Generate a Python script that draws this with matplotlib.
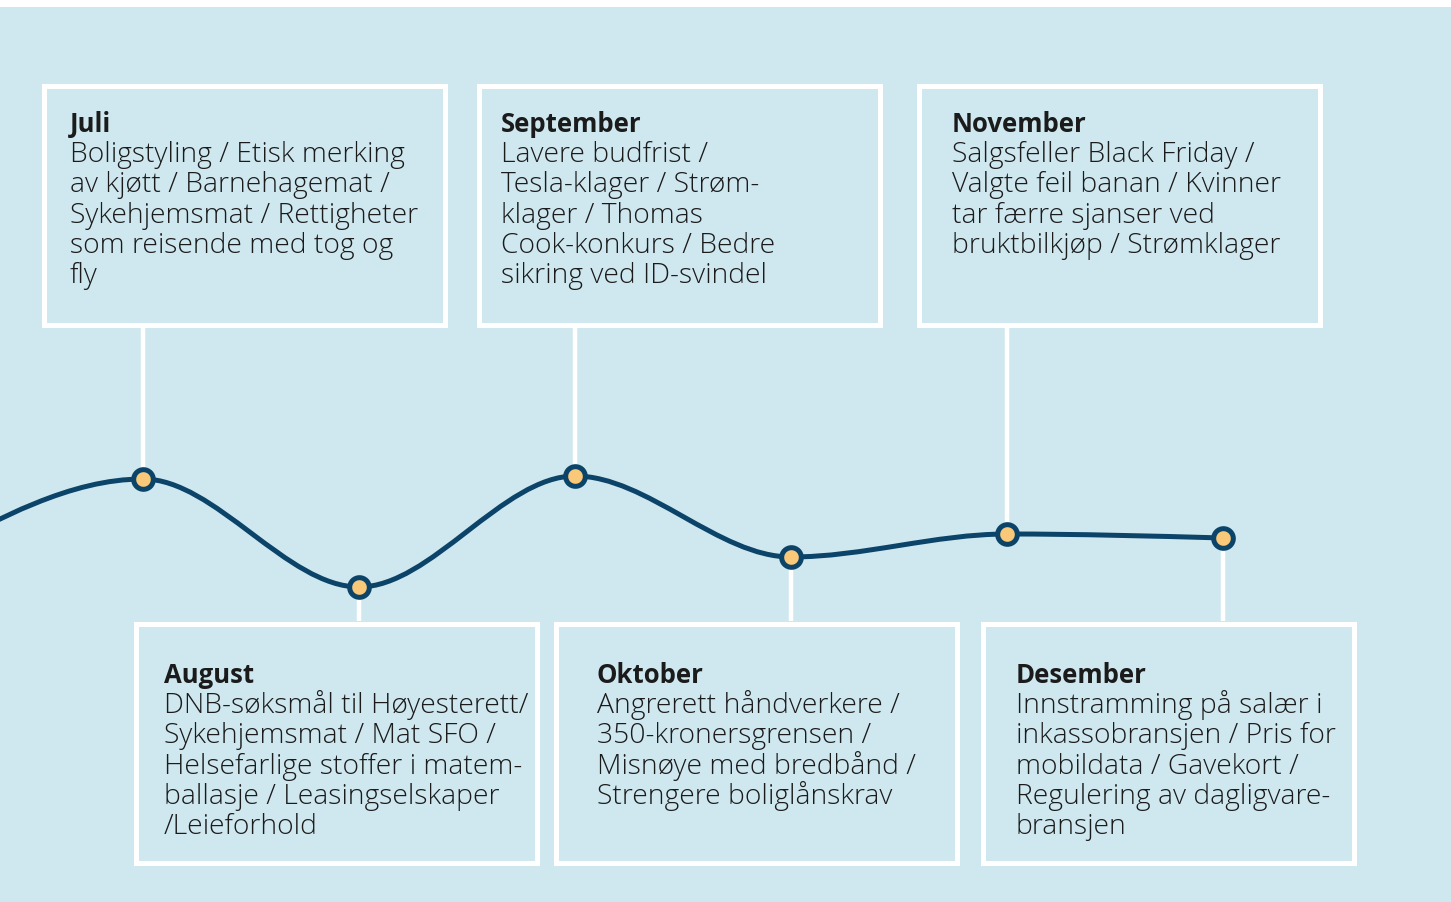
import matplotlib
matplotlib.use("Agg")
import matplotlib.pyplot as plt
from matplotlib.path import Path
from matplotlib.patches import PathPatch, Rectangle
import numpy as np

# ---------------- data ----------------
months = ["Juni", "Juli", "August", "September", "Oktober", "November", "Desember"]
month_index = [-1, 0, 1, 2, 3, 4, 5]
values = [345, 423, 315, 426, 345, 368, 364]   # relative level

titles = ["Juli", "August", "September", "Oktober", "November", "Desember"]
bodies = [
    "Boligstyling / Etisk merking\nav kjøtt / Barnehagemat /\nSykehjemsmat / Rettigheter\nsom reisende med tog og\nfly",
    "DNB-søksmål til Høyesterett/\nSykehjemsmat / Mat SFO /\nHelsefarlige stoffer i matem-\nballasje / Leasingselskaper\n/Leieforhold",
    "Lavere budfrist /\nTesla-klager / Strøm-\nklager / Thomas\nCook-konkurs / Bedre\nsikring ved ID-svindel",
    "Angrerett håndverkere /\n350-kronersgrensen /\nMisnøye med bredbånd /\nStrengere boliglånskrav",
    "Salgsfeller Black Friday /\nValgte feil banan / Kvinner\ntar færre sjanser ved\nbruktbilkjøp / Strømklager",
    "Innstramming på salær i\ninkassobransjen / Pris for\nmobildata / Gavekort /\nRegulering av dagligvare-\nbransjen",
]
above = [True, False, True, False, True, False]

# layout (pixel coordinates of the boxes: left, top, right, bottom – outer edges)
boxes = [
    (41, 84, 447, 328),
    (133, 622, 539, 866),
    (476, 84, 882, 328),
    (553, 622, 959, 866),
    (916, 84, 1322, 328),
    (980, 622, 1356, 866),
]
text_x = [70, 164, 501, 597, 952, 1016]

BG = "#cfe8f0"
LINE = "#0b4468"
DOT = "#f9c878"
TXT = "#1b1b1b"

W, H = 1451, 903
fig = plt.figure(figsize=(W / 100, H / 100), dpi=100)
fig.patch.set_facecolor("white")

# layout axes in pixel units
lay = fig.add_axes([0, 0, 1, 1])
lay.set_xlim(0, W)
lay.set_ylim(H, 0)
lay.axis("off")
lay.add_patch(Rectangle((0, 8), W, H - 8, facecolor=BG, edgecolor="none", zorder=0))

# data axes (month index vs value)
ax = fig.add_axes([0, 0, 1, 1])
ax.patch.set_alpha(0)
spacing = 216.0
x0px = 143.0
ax.set_xlim(-x0px / spacing, (W - x0px) / spacing)
ax.set_ylim(0, H)
ax.axis("off")

# monotone cubic (d3 curveMonotoneX) as bezier path
x = np.array(month_index, float)
y = np.array(values, float)
n = len(x)
h = np.diff(x)
s = np.diff(y) / h
t = np.zeros(n)
for i in range(1, n - 1):
    s0, s1 = s[i - 1], s[i]
    h0, h1 = h[i - 1], h[i]
    p = (s0 * h1 + s1 * h0) / (h0 + h1)
    t[i] = (np.sign(s0) + np.sign(s1)) * min(abs(s0), abs(s1), 0.5 * abs(p))
t[0] = (3 * s[0] - t[1]) / 2
t[-1] = (3 * s[-1] - t[-2]) / 2
verts = [(x[0], y[0])]
codes = [Path.MOVETO]
for i in range(n - 1):
    dx = (x[i + 1] - x[i]) / 3
    verts += [(x[i] + dx, y[i] + dx * t[i]), (x[i + 1] - dx, y[i + 1] - dx * t[i + 1]), (x[i + 1], y[i + 1])]
    codes += [Path.CURVE4] * 3
ax.add_patch(PathPatch(Path(verts, codes), facecolor="none", edgecolor=LINE, lw=3.6, zorder=3,
                       capstyle="round"))

# boxes, connectors and text
for k in range(len(titles)):
    l, tp, r, b = boxes[k]
    lay.add_patch(Rectangle((l + 2.5, tp + 2.5), r - l - 5, b - tp - 5, facecolor="none",
                            edgecolor="white", lw=5 * 0.72, zorder=2))
    xi = month_index[k + 1]
    vi = values[k + 1]
    edge = H - (b if above[k] else tp)
    ax.plot([xi, xi], [vi, edge], color="white", lw=3.2, zorder=2, solid_capstyle="butt")
    base = 132 if above[k] else 683
    lay.text(text_x[k], base, titles[k], fontsize=18.5, fontweight="bold", color=TXT,
             family="Open Sans", va="baseline", ha="left", zorder=4)
    for j, line in enumerate(bodies[k].split("\n")):
        lay.text(text_x[k], base + 30.2 * (j + 1), line, fontsize=20.3, fontweight="light",
                 color=TXT, family="Open Sans", va="baseline", ha="left", zorder=4)

ax.scatter(month_index[1:], values[1:], s=200, facecolor=DOT, edgecolor=LINE, linewidth=3.6, zorder=5)

fig.savefig("out.png", dpi=100, facecolor="white")
